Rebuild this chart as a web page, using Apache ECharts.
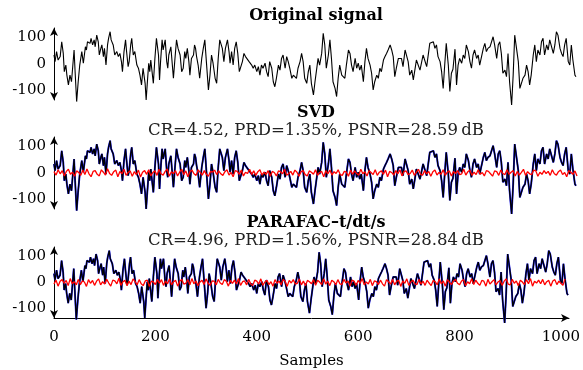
<!DOCTYPE html>
<html><head><meta charset="utf-8">
<script src="https://cdn.jsdelivr.net/npm/echarts@6/dist/echarts.min.js"></script>
<style>html,body{margin:0;padding:0;background:#fff}#c{width:583px;height:370px}</style>
</head><body><div id="c"></div>
<script>
// ---- data ----
var sampleIdx = [0,2,5,8,12,15,18,20,23,25,28,31,34,39,41,44,47,50,54,57,61,63,65,68,70,72,75,78,80,83,86,88,91,93,96,98,101,104,106,109,111,115,118,122,125,128,131,133,136,139,141,144,146,149,151,154,157,161,164,167,170,173,177,179,181,184,186,188,
193,196,199,203,205,207,210,212,216,219,221,223,227,232,235,238,241,245,248,251,254,256,259,262,264,267,271,273,275,277,280,283,287,290,293,296,300,303,306,309,313,316,319,322,324,327,330,333,337,340,342,345,348,351,354,357,360,362,366,369,372,375,379,382,
384,387,390,394,397,400,403,406,410,413,416,419,423,426,429,432,436,439,442,445,449,452,455,458,462,465,468,471,474,478,481,484,487,491,494,497,500,504,507,510,513,516,520,523,526,529,533,536,539,542,546,549,552,555,559,562,565,568,572,575,
578,581,585,588,591,594,597,601,604,607,610,614,617,620,623,627,630,633,636,640,643,646,649,653,656,659,662,665,669,672,675,678,682,685,688,691,695,698,701,704,707,711,714,717,720,724,727,730,733,737,740,743,746,750,753,756,759,762,766,769,
772,775,779,782,785,788,792,795,798,801,805,808,811,814,817,821,824,827,830,834,837,840,843,847,850,853,856,860,863,866,869,872,876,879,882,885,889,892,895,898,902,905,908,911,915,918,921,924,927,931,934,937,940,944,947,950,953,957,960,963,966,970,973,976,979,983,986,989,992,995,999,1002,1005,1008,1012,1014];
var signal = [34,9,47,15,28,84,40,-29,-4,-42,-79,-42,-67,53,-29,-142,-67,-4,47,3,65,53,84,91,78,97,72,91,65,109,84,34,59,72,28,59,-4,72,97,122,91,72,34,47,28,40,9,-29,47,91,47,-10,9,72,97,34,47,-4,-16,-42,-79,-16,-73,-136,-79,3,-29,15,
-73,21,97,34,-60,9,91,53,91,9,-16,34,65,-54,21,91,59,34,-29,-16,47,21,59,9,-42,21,34,72,59,28,-4,-54,21,59,91,9,-98,-42,34,3,-54,-73,21,91,97,59,9,59,91,47,3,47,-4,59,84,40,-29,-23,9,40,28,21,9,15,
-4,-16,-4,-29,-10,-42,-4,-16,3,-29,-48,9,-16,-67,-86,-54,-4,-23,21,34,-16,28,9,-16,-54,-42,-48,-54,-16,9,40,9,-54,-73,-29,-4,-73,-117,-67,-23,21,-4,40,116,72,-16,34,91,21,-67,-92,-123,-54,-4,-42,-35,-54,-4,53,40,
-4,-29,21,-16,3,-23,-4,-67,9,59,21,-4,-35,-98,-67,-42,-54,-16,-29,15,28,40,53,72,53,28,-48,-16,21,15,21,-10,53,47,9,-42,-23,-60,-23,15,9,-23,-29,34,40,-10,-4,78,72,84,59,72,28,9,-29,-92,-4,78,-4,-104,
-35,-20,56,-79,-4,21,3,34,21,72,47,9,-16,34,53,21,34,-4,-10,59,78,47,59,65,59,103,72,21,72,84,40,-35,-23,-48,40,-67,-155,-42,109,116,9,-92,-73,-54,-42,-4,-29,-79,-42,34,72,9,53,34,84,97,34,72,53,91,84,40,72,122,109,59,40,28,72,97,9,-4,72,15,-42,-48];
var errStep = 4;
var errSVD = [5,-8,12,-3,9,-11,6,14,-5,3,-12,8,2,-9,11,-6,15,-3,-14,6,
9,-5,-11,12,3,-8,16,-2,-9,5,11,-14,6,-3,14,-9,2,8,-12,5,
-6,11,-15,3,9,-5,12,-11,2,8,-9,14,-3,-8,6,15,-12,5,-2,9,
-11,3,14,-6,8,-14,5,11,-3,-9,12,2,-8,9,-5,-12,6,3,11,-6,
8,-3,-9,5,12,-8,2,-14,9,6,-5,11,-11,3,-2,14,-6,8,-9,5,
12,-8,3,-5,9,-12,6,2,-11,8,5,-3,14,-9,-2,6,-8,11,3,-12,
5,9,-6,-11,8,3,-5,12,-9,2,6,-14,9,-3,11,-8,5,-2,12,-6,
-9,6,3,-12,11,-5,8,-2,-8,14,-3,5,-11,9,2,-6,12,-9,3,8,
-5,11,-14,6,2,-8,9,-3,12,-11,5,8,-6,-2,11,-9,3,14,-5,-8,
9,-3,6,-12,5,11,-8,2,-5,12,-9,3,8,-11,6,-2,9,-6,-3,14,
-8,5,11,-9,3,-6,12,-5,2,-11,9,6,-3,-12,8,5,-9,11,-2,-6,
12,-5,3,9,-11,6,-8,2,14,-9,5,-3,-6,11,8,-12,3,-5,9,-2,
6,-9,12,-3,-8,5,11,-6,2,-14,9,3,-5,8,-11];
var errPAR = [-6,9,-14,5,11,-3,8,-12,15,-5,3,-9,12,-8,6,2,-15,11,-3,8,
-11,5,14,-9,3,-6,12,-2,-14,9,6,-5,16,-11,3,8,-12,5,-8,14,
3,-9,11,-5,-12,6,9,-15,5,2,-8,12,-3,11,-11,6,-5,14,-9,3,
8,-14,5,12,-6,-3,11,-9,15,-5,6,-12,2,9,-8,14,-3,-11,6,5,
-9,12,-2,-8,11,5,-14,8,-3,9,-6,15,-11,3,6,-9,12,-5,-12,9,
5,-6,14,-11,2,9,-8,3,-14,11,-3,6,-9,12,5,-15,8,-2,11,-6,
-3,14,-9,6,-12,8,3,-5,11,-11,9,2,-8,14,-6,5,-12,9,3,-9,
11,-5,-8,12,-2,6,-14,9,5,-11,8,-3,15,-9,2,-6,12,-12,6,3,
-8,9,-5,-14,11,3,-6,12,-9,5,8,-15,6,-3,14,-11,2,9,-5,-8,
12,-6,5,-11,9,-2,-12,8,3,-9,14,-5,6,-14,11,2,-8,5,12,-3,
-9,6,11,-12,3,-5,14,-8,9,-3,-11,8,5,-14,12,-6,3,11,-9,2,
8,-11,5,14,-6,-9,12,-3,6,-12,9,2,-8,11,-5,15,-14,5,-2,9,
-5,12,-9,3,8,-14,6,11,-8,5,-3,-11,14];
var yTicks = [-100, 0, 100];
var xTicks = [0, 200, 400, 600, 800, 1000];
var titles = ['Original signal', 'SVD', 'PARAFAC\u2013t/dt/s'];
var subtitles = ['', 'CR=4.52, PRD=1.35%, PSNR=28.59\u2009dB', 'CR=4.96, PRD=1.56%, PSNR=28.84\u2009dB'];

// ---- chart ----
var FONT = 'DejaVu Serif';
var FS = 15;
function pairs(xs, ys){ return ys.map(function(v,i){ return [xs[i], v]; }); }
function errPairs(ys){ return ys.map(function(v,i){ return [i*errStep, v]; }); }
var sig = pairs(sampleIdx, signal);
var tops = [28, 137, 247], H = 72;
var grids = [], xAxes = [], yAxes = [], series = [];
for (var g = 0; g < 3; g++) {
  grids.push({left: 54, width: 523, top: tops[g], height: H});
  var last = g === 2;
  xAxes.push({type: 'value', gridIndex: g, min: 0, max: 1016,
    axisLine: {show: last, onZero: false, symbol: ['none', 'arrow'], symbolSize: [6, 8], lineStyle: {color: '#000', width: 1}},
    axisTick: {show: false}, splitLine: {show: false},
    axisLabel: {show: last, customValues: xTicks, formatter: function(v){ return String(v); },
      color: '#000', fontFamily: FONT, fontSize: FS, margin: 12},
    name: last ? 'Samples' : '', nameLocation: 'middle', nameGap: 36,
    nameTextStyle: {color: '#000', fontFamily: FONT, fontSize: FS}});
  yAxes.push({type: 'value', gridIndex: g, min: -136, max: 136,
    axisLine: {show: true, onZero: false, symbol: ['arrow', 'arrow'], symbolSize: [6, 8], lineStyle: {color: '#000', width: 1}},
    axisTick: {show: false}, splitLine: {show: false},
    axisLabel: {customValues: yTicks, color: '#000', fontFamily: FONT, fontSize: FS, margin: 8}});
}
series.push({type: 'line', xAxisIndex: 0, yAxisIndex: 0, data: sig, showSymbol: false, clip: false,
  lineStyle: {color: '#000', width: 1.1}, animation: false});
[1, 2].forEach(function(g){
  series.push({type: 'line', xAxisIndex: g, yAxisIndex: g, data: sig, showSymbol: false, clip: false,
    lineStyle: {color: '#1a1aff', width: 1.9}, animation: false});
  series.push({type: 'line', xAxisIndex: g, yAxisIndex: g, data: sig, showSymbol: false, clip: false,
    lineStyle: {color: '#000', width: 1.3}, animation: false});
  series.push({type: 'line', xAxisIndex: g, yAxisIndex: g, data: errPairs(g === 1 ? errSVD : errPAR), showSymbol: false, clip: false,
    lineStyle: {color: '#ff0000', width: 1.3}, animation: false});
});
var titleComps = [];
var titleY = [14, 111, 221], subY = [0, 128, 238];
for (var t = 0; t < 3; t++) {
  titleComps.push({text: titles[t], left: 316, top: titleY[t] - 6, textAlign: 'center', padding: 0,
    textStyle: {fontFamily: FONT, fontSize: 16, fontWeight: 'bold', color: '#000'}});
  if (subtitles[t]) titleComps.push({text: subtitles[t], left: 316, top: subY[t] - 6, textAlign: 'center', padding: 0,
    textStyle: {fontFamily: FONT, fontSize: 16.5, fontWeight: 'normal', color: '#222'}});
}
var chart = echarts.init(document.getElementById('c'), null, {renderer: 'canvas'});
chart.setOption({animation: false, backgroundColor: '#fff', title: titleComps, grid: grids, xAxis: xAxes, yAxis: yAxes, series: series});
</script></body></html>
